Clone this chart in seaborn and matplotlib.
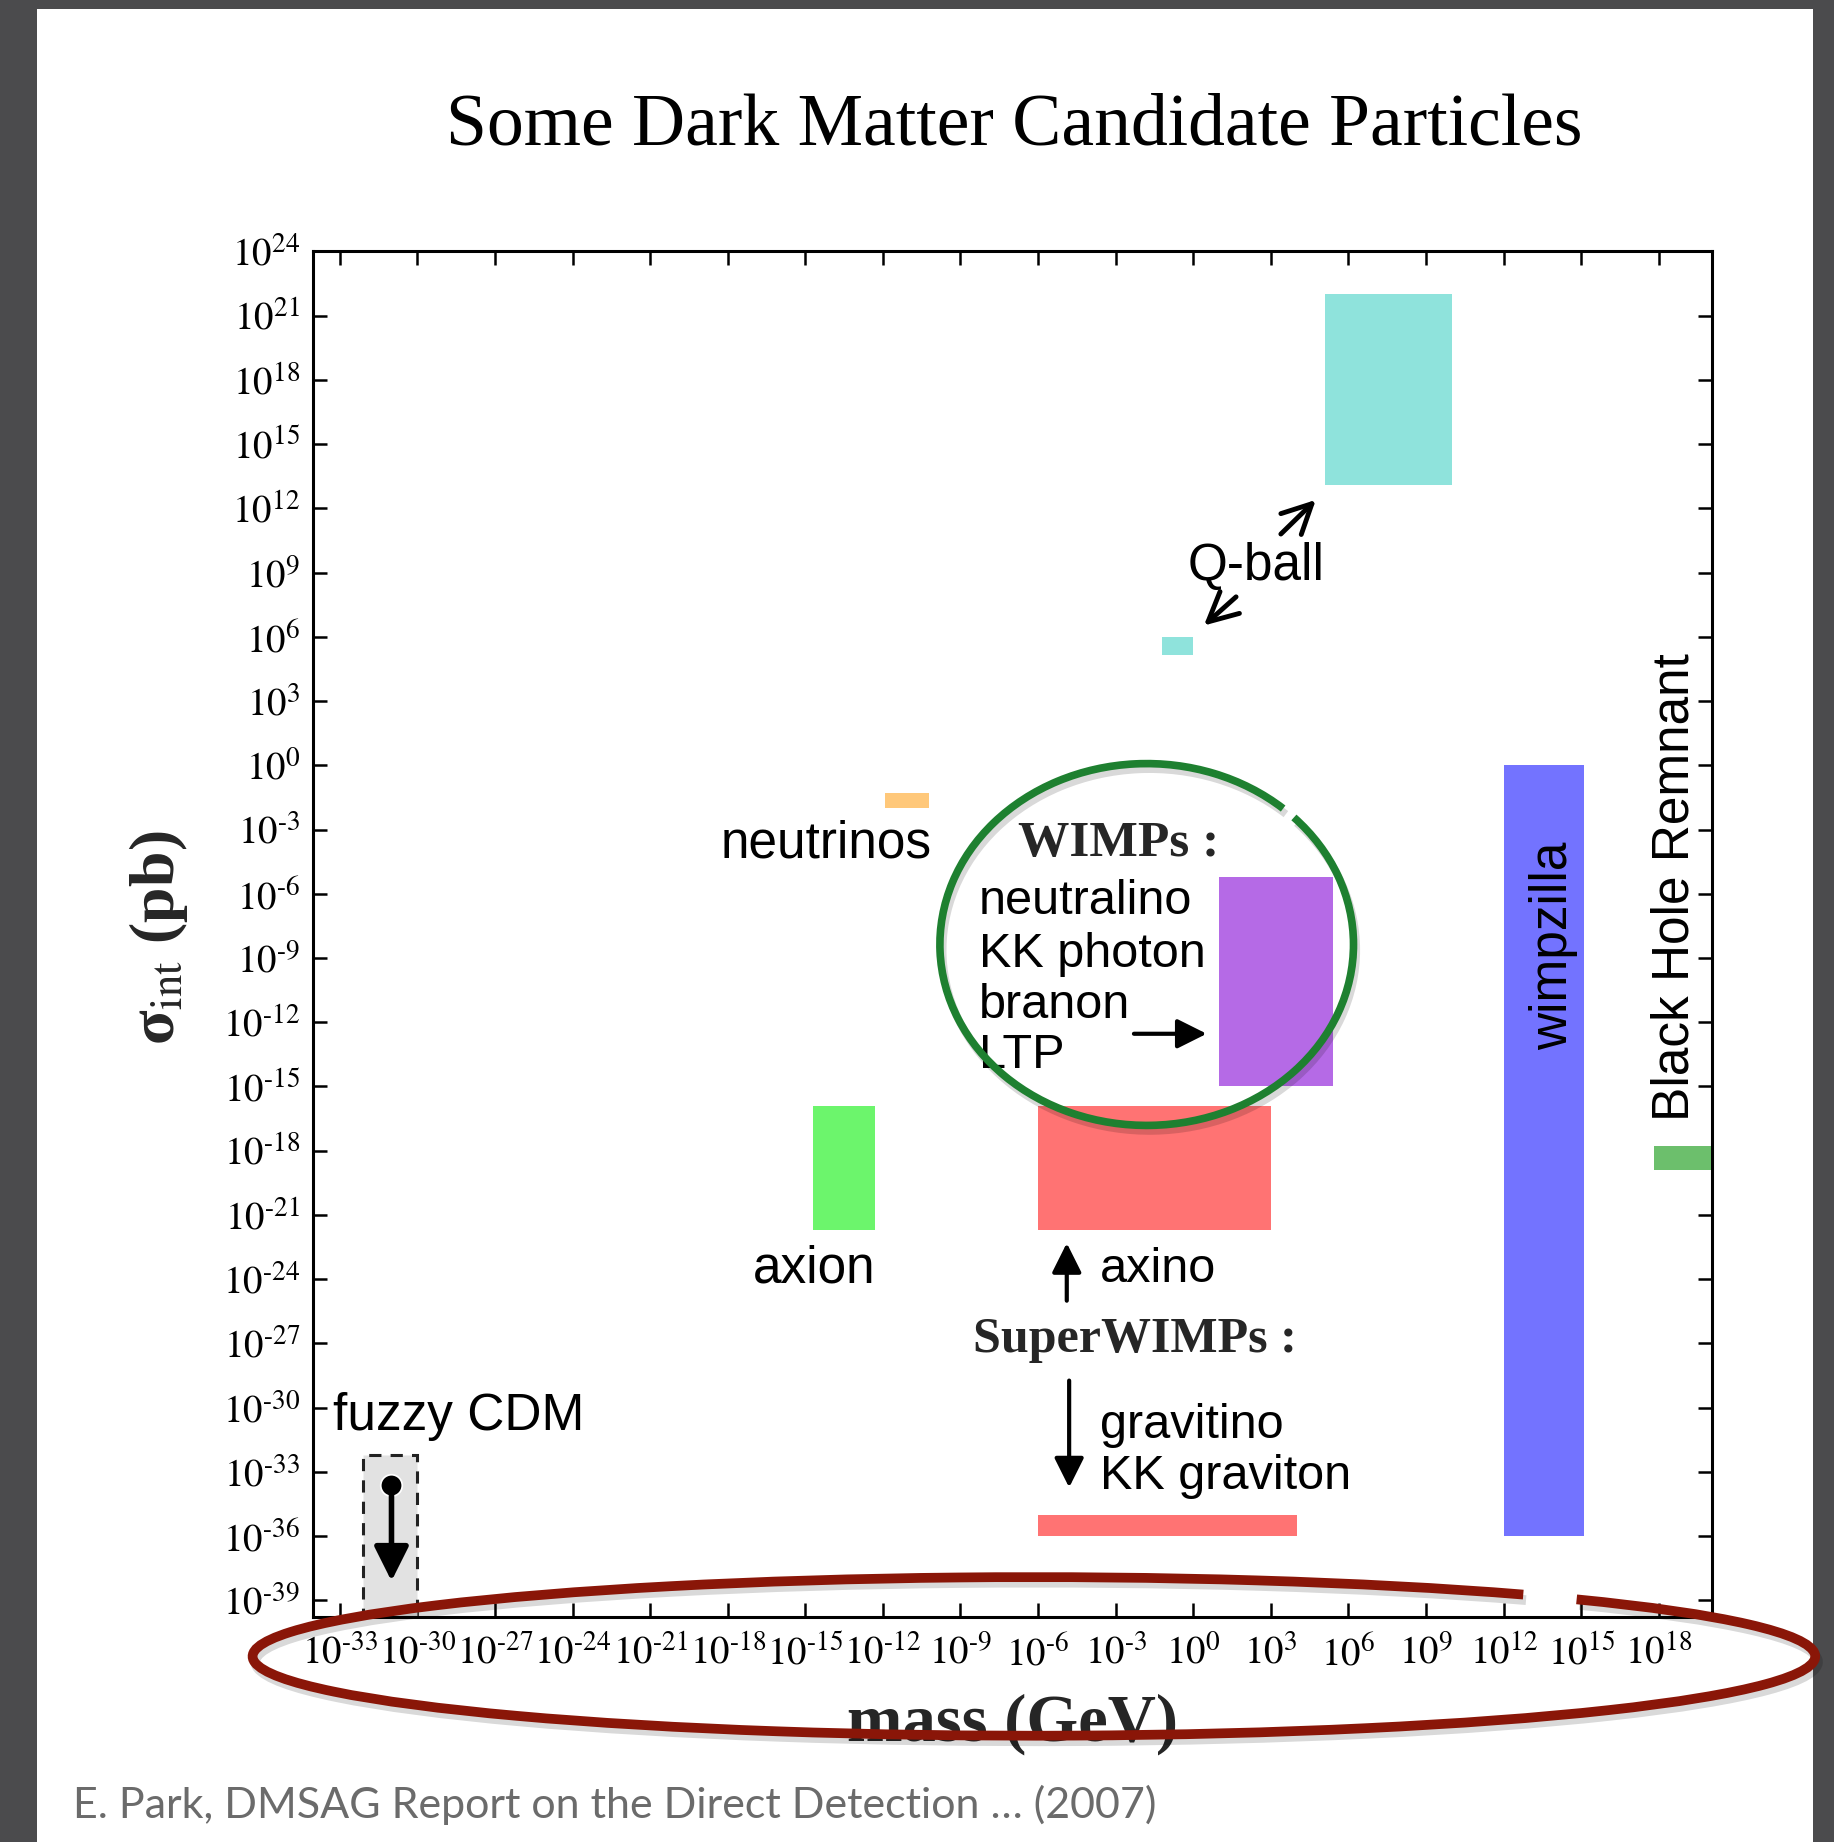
import numpy as np
import pandas as pd
import seaborn as sns
import matplotlib
matplotlib.use("Agg")
import matplotlib.pyplot as plt
from matplotlib.patches import Arc, Rectangle
from matplotlib.ticker import NullLocator
import matplotlib.patheffects as pe

# ---------------- data (log10 values) ----------------
particles = ["Q-ball (large)", "Q-ball (small)", "neutrinos", "axion", "WIMPs",
             "axino", "gravitino", "wimpzilla", "Black Hole Remnant", "fuzzy CDM"]
mass_lo_exp = [5.1, -1.2, -11.9, -14.7, 1.0, -6.0, -6.0, 12.0, 17.8, -32.1]
mass_hi_exp = [10.0, 0.0, -10.2, -12.3, 5.4, 3.0, 4.0, 15.1, 20.0, -30.0]
sigma_lo_exp = [13.1, 5.15, -2.0, -21.7, -15.0, -21.7, -36.0, -36.0, -18.9, -41.0]
sigma_hi_exp = [22.0, 6.0, -1.3, -15.9, -5.2, -15.9, -35.0, 0.0, -17.8, -32.2]
colors = ["#8fe3dc", "#8fe3dc", "#ffc87a", "#6cf56c", "#b56ae6",
          "#ff7373", "#ff7373", "#7373ff", "#6cbf6c", "#e2e2e2"]

fuzzy_dot_mass_exp = -31.0
fuzzy_dot_sigma_exp = -33.6
fuzzy_arrow_sigma_exp = -38.1

x_tick_exp = list(range(-33, 19, 3))
y_tick_exp = list(range(-39, 25, 3))

df = pd.DataFrame({"particle": particles, "mlo": mass_lo_exp, "mhi": mass_hi_exp,
                   "slo": sigma_lo_exp, "shi": sigma_hi_exp, "color": colors})

# ---------------- style ----------------
sns.set_theme(style="ticks")
plt.rcParams['font.family'] = ['Liberation Sans', 'DejaVu Sans']
plt.rcParams['mathtext.fontset'] = 'stix'

SERIF = ['Liberation Serif', 'DejaVu Serif']
SANS = ['Liberation Sans', 'DejaVu Sans']

fig = plt.figure(figsize=(18.34, 18.42), dpi=100, facecolor='#4b4b4d')
fig.add_artist(Rectangle((0.0202, 0.0), 0.9684, 0.9951, transform=fig.transFigure,
                         facecolor='white', edgecolor='none', zorder=0))

ax = fig.add_axes([0.17045, 0.12226, 0.76292, 0.74126])
ax.set_facecolor('white')
ax.set_xscale('log')
ax.set_yscale('log')
ax.set_xlim(10.0 ** -34.05, 10.0 ** 20.05)
ax.set_ylim(10.0 ** -39.77, 10.0 ** 24)

# ---------------- boxes ----------------
for _, r in df.iterrows():
    x0, x1 = 10.0 ** r.mlo, 10.0 ** r.mhi
    y0, y1 = 10.0 ** r.slo, 10.0 ** r.shi
    if r.particle == "fuzzy CDM":
        ax.bar(x0, y1 - y0, width=x1 - x0, bottom=y0, align='edge', color=r.color,
               edgecolor='#222222', linestyle=(0, (4, 3)), linewidth=2.2, zorder=2)
    else:
        ax.bar(x0, y1 - y0, width=x1 - x0, bottom=y0, align='edge', color=r.color,
               edgecolor='none', linewidth=0, zorder=2)

# fuzzy CDM dot + arrow
sns.scatterplot(x=[10.0 ** fuzzy_dot_mass_exp], y=[10.0 ** fuzzy_dot_sigma_exp], ax=ax,
                color='black', s=240, zorder=4, legend=False)
ax.annotate("", xy=(10.0 ** fuzzy_dot_mass_exp, 10.0 ** fuzzy_arrow_sigma_exp),
            xytext=(10.0 ** fuzzy_dot_mass_exp, 10.0 ** fuzzy_dot_sigma_exp),
            arrowprops=dict(arrowstyle='-|>,head_length=0.7,head_width=0.35', lw=4,
                            color='black', shrinkA=0, shrinkB=0, mutation_scale=30), zorder=4)

# ---------------- axes / ticks ----------------
def lab(k):
    if k < 0:
        return r"$10^{\text{-}%d}$" % (-k)
    return r"$10^{%d}$" % k

ax.set_xticks([10.0 ** k for k in x_tick_exp])
ax.set_xticklabels([lab(k) for k in x_tick_exp])
ax.set_yticks([10.0 ** k for k in y_tick_exp])
ax.set_yticklabels([lab(k) for k in y_tick_exp])
ax.xaxis.set_minor_locator(NullLocator())
ax.yaxis.set_minor_locator(NullLocator())
ax.tick_params(axis='both', which='major', direction='in', length=10, width=1.8,
               top=True, right=True, labelsize=28, color='black', labelcolor='black')
ax.tick_params(axis='y', pad=9)
ax.tick_params(axis='x', pad=13)
for s in ax.spines.values():
    s.set_linewidth(2.2)
    s.set_color('black')

ax.set_xlabel("mass (GeV)", fontsize=48, fontweight='bold', family=SERIF, va='center')
ax.xaxis.set_label_coords(0.5004, -0.079)
ax.set_ylabel("\u03c3$_{\\mathrm{int}}$ (pb)", fontsize=46, fontweight='bold',
              family=SERIF, va='center')
ax.yaxis.set_label_coords(-0.110, 0.497)

# ---------------- labels ----------------
T = ax.transAxes
kw_sans = dict(transform=T, family=SANS, color='black', zorder=5)
ax.text(0.674, 0.769, "Q-ball", fontsize=37, ha='center', va='center', **kw_sans)
ax.text(0.367, 0.566, "neutrinos", fontsize=37, ha='center', va='center', **kw_sans)
ax.text(0.576, 0.566, "WIMPs :", fontsize=37, ha='center', va='center', transform=T,
        family=SERIF, fontweight='bold', zorder=5)
for yy, t in zip([0.524, 0.485, 0.448, 0.411], ["neutralino", "KK photon", "branon", "LTP"]):
    ax.text(0.476, yy, t, fontsize=35, ha='left', va='center', **kw_sans)
ax.text(0.3585, 0.2547, "axion", fontsize=37, ha='center', va='center', **kw_sans)
ax.text(0.5626, 0.2547, "axino", fontsize=35, ha='left', va='center', **kw_sans)
ax.text(0.5877, 0.203, "SuperWIMPs :", fontsize=36, ha='center', va='center', transform=T,
        family=SERIF, fontweight='bold', zorder=5)
ax.text(0.5626, 0.140, "gravitino", fontsize=35, ha='left', va='center', **kw_sans)
ax.text(0.5626, 0.1024, "KK graviton", fontsize=35, ha='left', va='center', **kw_sans)
ax.text(0.8866, 0.4914, "wimpzilla", fontsize=37, ha='center', va='center', rotation=90, **kw_sans)
ax.text(0.974, 0.5344, "Black Hole Remnant", fontsize=37, ha='center', va='center',
        rotation=90, **kw_sans)
ax.text(0.0143, 0.147, "fuzzy CDM", fontsize=37, ha='left', va='center', **kw_sans)

def arrow(tail, tip, style='-|>,head_length=0.6,head_width=0.3', lw=3.0):
    ax.annotate("", xy=tip, xytext=tail, xycoords='axes fraction', textcoords='axes fraction',
                arrowprops=dict(arrowstyle=style, lw=lw, color='black', shrinkA=0, shrinkB=0,
                                mutation_scale=30), zorder=5)

arrow((0.692, 0.793), (0.717, 0.818), style='->,head_length=0.7,head_width=0.35', lw=3.5)
arrow((0.660, 0.747), (0.637, 0.726), style='->,head_length=0.7,head_width=0.35', lw=3.5)
arrow((0.587, 0.427), (0.639, 0.427))
arrow((0.539, 0.2315), (0.539, 0.2737))
arrow((0.5407, 0.173), (0.5407, 0.0947))

# ---------------- title / caption ----------------
fig.text(0.553, 0.931, "Some Dark Matter Candidate Particles", fontsize=53, ha='center',
         va='center', family=SERIF, color='black')
fig.text(0.0398, 0.0204, "E. Park, DMSAG Report on the Direct Detection \u2026 (2007)",
         fontsize=31, ha='left', va='center', family=['Lato', 'DejaVu Sans'], color='#6b6b6b')

# ---------------- hand-drawn highlight ellipses ----------------
ov = fig.add_axes([0, 0, 1, 1], zorder=10)
ov.set_xlim(0, 1834)
ov.set_ylim(0, 1842)
ov.axis('off')
ov.patch.set_alpha(0)
shadow = [pe.SimpleLineShadow(offset=(2, -4), shadow_color='black', alpha=0.15, rho=0.3), pe.Normal()]
green = Arc((1146.7, 897.5), 413.6, 361.8, theta1=44.9, theta2=400.8, color='#1e8030',
            lw=5.5, path_effects=shadow)
ov.add_patch(green)
red = Arc((1033.9, 185.6), 1562.6, 158.6, theta1=7.2, theta2=366.0, color='#8a1608',
          lw=7, path_effects=shadow)
ov.add_patch(red)

fig.savefig("out.png", dpi=100, facecolor=fig.get_facecolor())
